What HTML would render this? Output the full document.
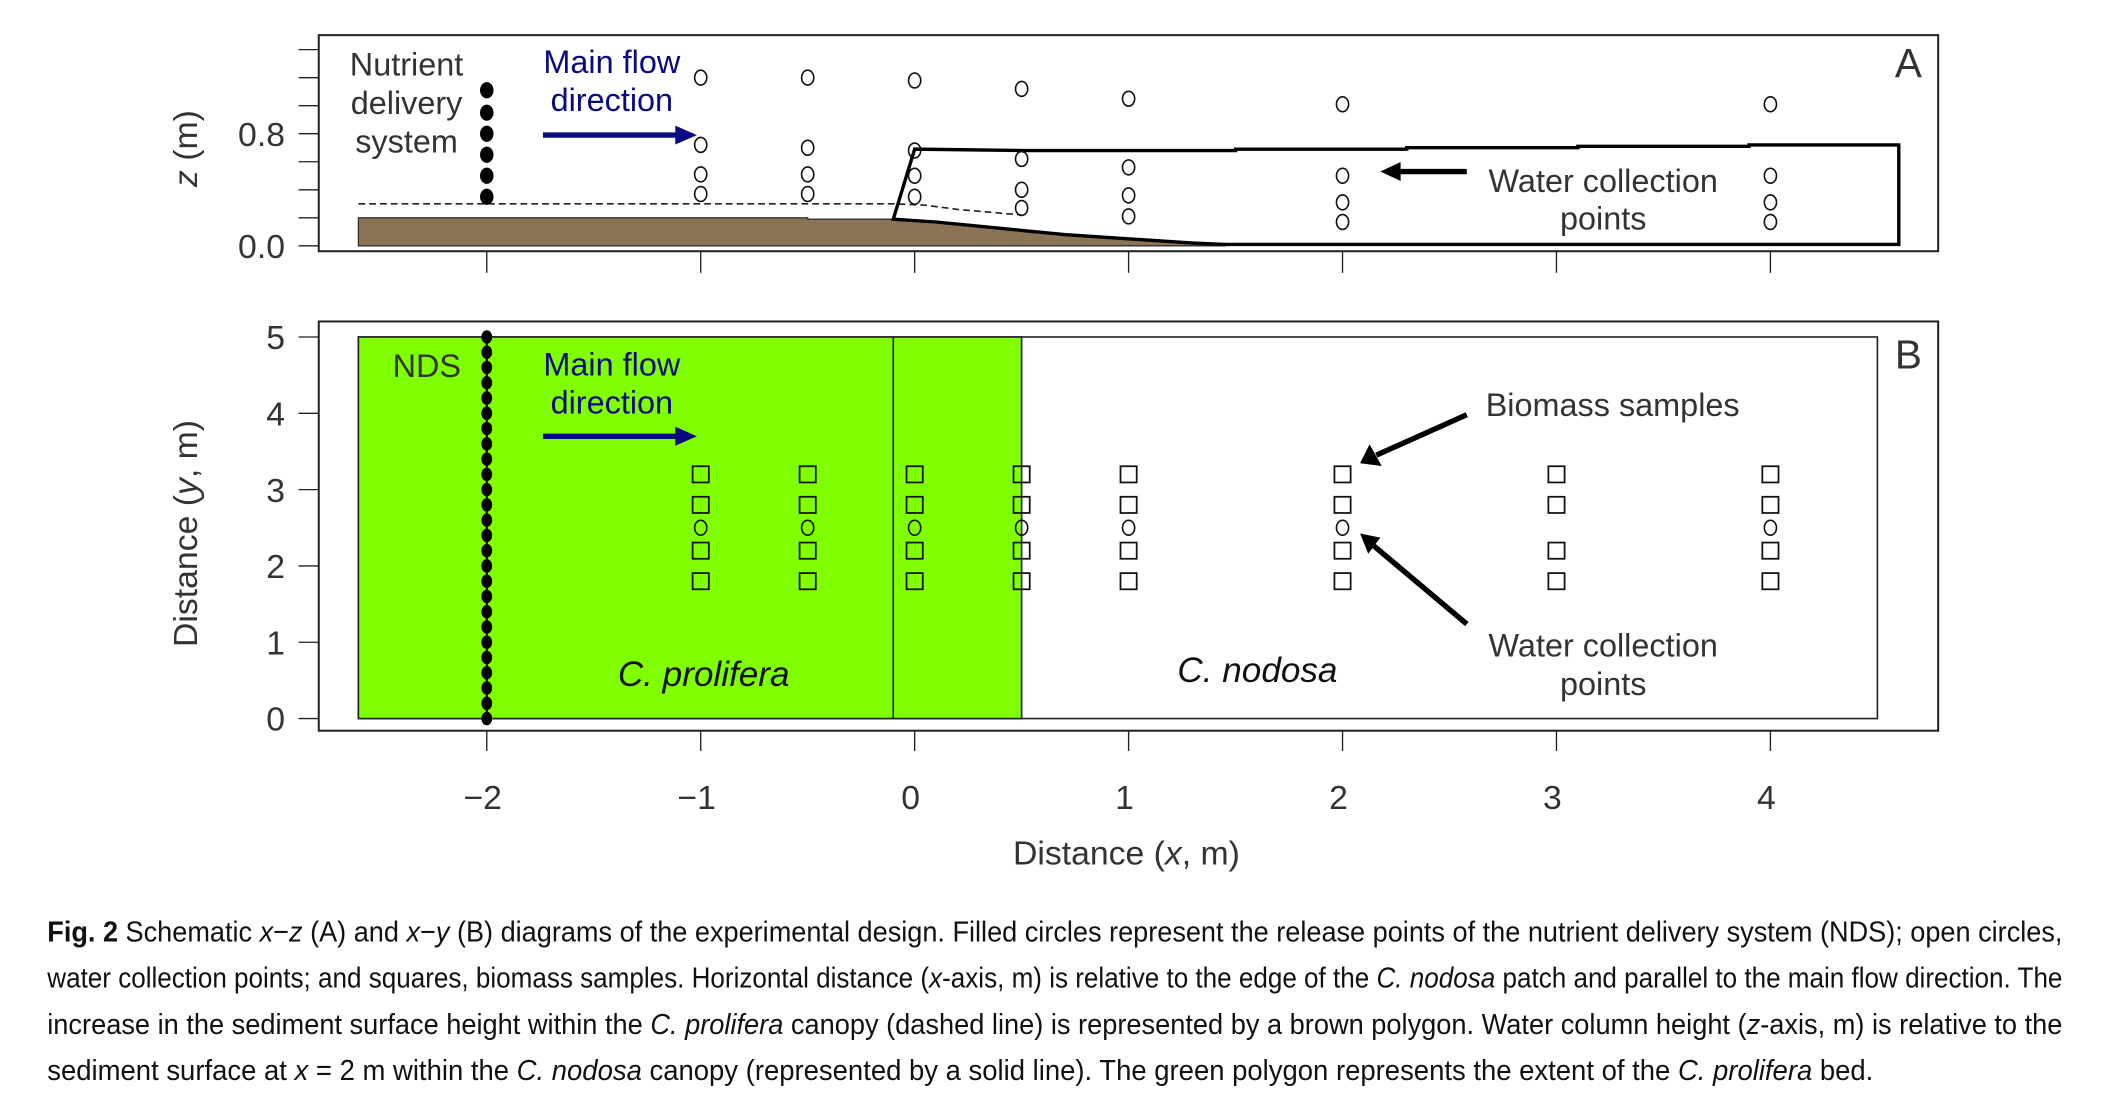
<!DOCTYPE html>
<html><head><meta charset="utf-8"><style>
html,body{margin:0;padding:0;background:#fff;}
svg{display:block;}
text{font-family:"Liberation Sans",sans-serif;}
</style></head><body>
<svg id="fig" width="2107" height="1117" viewBox="0 0 1560 827" preserveAspectRatio="none" xmlns="http://www.w3.org/2000/svg">
<g id="A"></g>
<g id="B"></g>
<g id="cap" font-size="21.5" fill="#111"></g>
</svg>
<script>
// ---- data ----
const xTicks = [-2,-1,0,1,2,3,4];
const xTickLabels = ["\u22122","\u22121","0","1","2","3","4"];
const zTicks = [0,0.2,0.4,0.6,0.8,1.0,1.2,1.4];
const zTickLabels = ["0.0","","","","0.8","","",""];
const yTicks = [0,1,2,3,4,5];
const yTickLabels = ["0","1","2","3","4","5"];
const ndsZ = [0.35,0.5,0.65,0.8,0.95,1.11];
const wcX = [-1,-0.5,0,0.5,1,2,4];
const wcZ1 = [1.20,1.20,1.18,1.12,1.05,1.01,1.01];
const wcZ2 = [0.72,0.70,0.68,0.62,0.56,0.50,0.50];
const wcZ3 = [0.51,0.51,0.50,0.40,0.36,0.31,0.31];
const wcZ4 = [0.37,0.37,0.35,0.27,0.21,0.17,0.17];
const sedX = [-2.6,-0.5,-0.5,-0.1,0.1,0.3,0.5,0.7,0.9,1.1,1.3,1.45];
const sedZ = [0.20,0.20,0.19,0.19,0.17,0.14,0.11,0.08,0.06,0.04,0.02,0.01];
const dashX = [-2.6,-0.1,0.05,0.2,0.35,0.5];
const dashZ = [0.30,0.30,0.29,0.26,0.24,0.22];
const canX = [0.5,1.5,1.5,2.3,2.3,3.1,3.1,3.9,3.9,4.6];
const canZ = [0.68,0.68,0.69,0.69,0.70,0.70,0.71,0.71,0.72,0.72];
const bioX = [-1,-0.5,0,0.5,1,2,3,4];
const bioY = [1.8,2.2,2.8,3.2];
const wcBX = [-1,-0.5,0,0.5,1,2,4];
const wcBY = [2.5];
const ndsBY = [0,0.2,0.4,0.6,0.8,1.0,1.2,1.4,1.6,1.8,2.0,2.2,2.4,2.6,2.8,3.0,3.2,3.4,3.6,3.8,4.0,4.2,4.4,4.6,4.8,5.0];
const bedX = [-2.6,0.5];
const bedY = [0,5];

// ---- scales ----
const X = v => 677.2 + v*158.4;
const ZA = v => 182 - v*103.75;
const YB = v => 532 - v*56.5;
const NS = "http://www.w3.org/2000/svg";
function mk(parent, tag, attrs, name, txt){
  const e=document.createElementNS(NS,tag);
  for(const k in attrs) e.setAttribute(k,attrs[k]);
  
  
  if(txt!==undefined) e.textContent=txt;
  parent.appendChild(e); return e;
}
const A=document.getElementById('A'), B=document.getElementById('B'), C=document.getElementById('cap');
const gray="#333";

// ---- Panel A ----
mk(A,'rect',{x:236,y:26,width:1199,height:160,fill:'none',stroke:'#222','stroke-width':1.5},'panel-a-frame');
zTicks.forEach((t,i)=>{
  mk(A,'line',{x1:221,x2:236,y1:ZA(t),y2:ZA(t),stroke:'#222','stroke-width':1},'z-tick');
  if(zTickLabels[i]) mk(A,'text',{x:211,y:ZA(t)+9,'text-anchor':'end','font-size':25,fill:gray},'z-tick-label',zTickLabels[i]);
});
xTicks.forEach(t=>mk(A,'line',{x1:X(t),x2:X(t),y1:186,y2:202,stroke:'#222','stroke-width':1},'x-tick-a'));
mk(A,'text',{x:0,y:0,transform:'translate(146,110) rotate(-90)','text-anchor':'middle','font-size':25,fill:gray},'z-axis-title',"z (m)").innerHTML='<tspan font-style="italic">z</tspan> (m)';
let sp=sedX.map((x,i)=>X(x)+','+ZA(sedZ[i])).join(' ');
sp+=' '+X(sedX[sedX.length-1])+','+ZA(0)+' '+X(-2.6)+','+ZA(0);
mk(A,'polygon',{points:sp,fill:'#8b7355',stroke:'#333','stroke-width':1},'sediment-polygon');
mk(A,'polyline',{points:dashX.map((x,i)=>X(x)+','+ZA(dashZ[i])).join(' '),fill:'none',stroke:'#222','stroke-width':1.2,'stroke-dasharray':'5,3'},'sediment-dashed-line');
let cp=[X(-0.1)+','+ZA(0.19), X(0)+','+ZA(0.69)];
canX.forEach((x,i)=>cp.push(X(x)+','+ZA(canZ[i])));
cp.push(X(4.6)+','+ZA(0.01)); cp.push(X(1.45)+','+ZA(0.01));
for(let i=sedX.length-1;i>=3;i--) cp.push(X(sedX[i])+','+ZA(sedZ[i]));
mk(A,'polygon',{points:cp.join(' '),fill:'none',stroke:'#000','stroke-width':2.5},'c-nodosa-canopy-outline');
[wcZ1,wcZ2,wcZ3,wcZ4].forEach(arr=>arr.forEach((z,i)=>mk(A,'ellipse',{cx:X(wcX[i]),cy:ZA(z),rx:4.5,ry:5.5,fill:'none',stroke:'#111','stroke-width':1.2},'water-collection-point')));
ndsZ.forEach(z=>mk(A,'ellipse',{cx:X(-2),cy:ZA(z),rx:5,ry:6,fill:'#000'},'nds-release-point'));
['Nutrient','delivery','system'].forEach((t,i)=>mk(A,'text',{x:301,y:56+i*28.5,'text-anchor':'middle','font-size':24,fill:gray},'nds-label',t));
['Main flow','direction'].forEach((t,i)=>mk(A,'text',{x:453,y:54+i*28,'text-anchor':'middle','font-size':24,fill:'#0a0a80'},'flow-label',t));
mk(A,'line',{x1:402,x2:502,y1:100,y2:100,stroke:'#0a0a80','stroke-width':4},'flow-arrow');
mk(A,'polygon',{points:'500,93 516,100 500,107',fill:'#0a0a80'},'flow-arrowhead');
mk(A,'text',{x:1413,y:57,'text-anchor':'middle','font-size':30,fill:gray},'panel-a-letter','A');
['Water collection','points'].forEach((t,i)=>mk(A,'text',{x:1187,y:142+i*28,'text-anchor':'middle','font-size':24,fill:gray},'water-collection-label',t));
mk(A,'line',{x1:1086,x2:1035,y1:127,y2:127,stroke:'#000','stroke-width':4},'water-arrow-a');
mk(A,'polygon',{points:'1037,120 1022,127 1037,134',fill:'#000'},'water-arrowhead-a');

// ---- Panel B ----
mk(B,'rect',{x:236,y:238,width:1199,height:303,fill:'none',stroke:'#222','stroke-width':1.5},'panel-b-frame');
mk(B,'rect',{x:X(-2.6),y:YB(5),width:X(4.5)-X(-2.6),height:YB(0)-YB(5),fill:'#fff',stroke:'#222','stroke-width':1.2},'c-nodosa-extent');
mk(B,'rect',{x:X(bedX[0]),y:YB(bedY[1]),width:X(bedX[1])-X(bedX[0]),height:YB(bedY[0])-YB(bedY[1]),fill:'#80ff00',stroke:'#222','stroke-width':1.2},'c-prolifera-bed');
mk(B,'line',{x1:X(-0.1),x2:X(-0.1),y1:YB(5),y2:YB(0),stroke:'#222','stroke-width':1.2},'bed-divider');
yTicks.forEach((t,i)=>{
  mk(B,'line',{x1:221,x2:236,y1:YB(t),y2:YB(t),stroke:'#222','stroke-width':1},'y-tick');
  mk(B,'text',{x:211,y:YB(t)+9,'text-anchor':'end','font-size':25,fill:gray},'y-tick-label',yTickLabels[i]);
});
xTicks.forEach((t,i)=>{
  mk(B,'line',{x1:X(t),x2:X(t),y1:541,y2:556,stroke:'#222','stroke-width':1},'x-tick');
  mk(B,'text',{x:X(t)-3,y:599,'text-anchor':'middle','font-size':25,fill:gray},'x-tick-label',xTickLabels[i]);
});
mk(B,'text',{x:834,y:640,'text-anchor':'middle','font-size':25,fill:gray},'x-axis-title').innerHTML='Distance (<tspan font-style="italic">x</tspan>, m)';
mk(B,'text',{x:0,y:0,transform:'translate(146,395) rotate(-90)','text-anchor':'middle','font-size':25,fill:gray},'y-axis-title').innerHTML='Distance (<tspan font-style="italic">y</tspan>, m)';
mk(B,'line',{x1:X(-2),x2:X(-2),y1:YB(5),y2:YB(0),stroke:'#000','stroke-width':1.5},'nds-line');
ndsBY.forEach(y=>mk(B,'ellipse',{cx:X(-2),cy:YB(y),rx:4,ry:5,fill:'#000'},'nds-release-point-b'));
bioX.forEach(x=>bioY.forEach(y=>mk(B,'rect',{x:X(x)-6,y:YB(y)-6,width:12,height:12,fill:'none',stroke:'#111','stroke-width':1.3},'biomass-sample')));
wcBX.forEach(x=>wcBY.forEach(y=>mk(B,'ellipse',{cx:X(x),cy:YB(y),rx:4.5,ry:5.5,fill:'none',stroke:'#111','stroke-width':1.2},'water-collection-point-b')));
mk(B,'text',{x:316,y:279,'text-anchor':'middle','font-size':24,fill:gray},'nds-label-b','NDS');
['Main flow','direction'].forEach((t,i)=>mk(B,'text',{x:453,y:278+i*28,'text-anchor':'middle','font-size':24,fill:'#0a0a80'},'flow-label-b',t));
mk(B,'line',{x1:402,x2:502,y1:323,y2:323,stroke:'#0a0a80','stroke-width':4},'flow-arrow-b');
mk(B,'polygon',{points:'500,316 516,323 500,330',fill:'#0a0a80'},'flow-arrowhead-b');
mk(B,'text',{x:521,y:508,'text-anchor':'middle','font-size':26,'font-style':'italic',fill:'#111'},'c-prolifera-label','C. prolifera');
mk(B,'text',{x:931,y:505,'text-anchor':'middle','font-size':26,'font-style':'italic',fill:'#111'},'c-nodosa-label','C. nodosa');
mk(B,'text',{x:1413,y:273,'text-anchor':'middle','font-size':30,fill:gray},'panel-b-letter','B');
mk(B,'text',{x:1194,y:308,'text-anchor':'middle','font-size':24,fill:gray},'biomass-label','Biomass samples');
['Water collection','points'].forEach((t,i)=>mk(B,'text',{x:1187,y:486+i*28.5,'text-anchor':'middle','font-size':24,fill:gray},'water-collection-label-b',t));
mk(B,'line',{x1:1086,y1:307,x2:1019,y2:337,stroke:'#000','stroke-width':4},'biomass-arrow');
mk(B,'polygon',{points:'1014,329 1007,343 1023,345',fill:'#000'},'biomass-arrowhead');
mk(B,'line',{x1:1086,y1:462,x2:1017,y2:404,stroke:'#000','stroke-width':4},'water-arrow-b');
mk(B,'polygon',{points:'1022,398 1007,395 1013,410',fill:'#000'},'water-arrowhead-b');

// ---- caption ----
const lines=[
 ['<tspan font-weight="bold">Fig. 2</tspan>  Schematic <tspan font-style="italic">x</tspan>\u2212<tspan font-style="italic">z</tspan> (A) and <tspan font-style="italic">x</tspan>\u2212<tspan font-style="italic">y</tspan> (B) diagrams of the experimental design. Filled circles represent the release points of the nutrient delivery system (NDS); open circles,',1492],
 ['water collection points; and squares, biomass samples. Horizontal distance (<tspan font-style="italic">x</tspan>-axis, m) is relative to the edge of the <tspan font-style="italic">C. nodosa</tspan> patch and parallel to the main flow direction. The',1492],
 ['increase in the sediment surface height within the <tspan font-style="italic">C. prolifera</tspan> canopy (dashed line) is represented by a brown polygon. Water column height (<tspan font-style="italic">z</tspan>-axis, m) is relative to the',1492],
 ['sediment surface at <tspan font-style="italic">x</tspan> = 2 m within the <tspan font-style="italic">C. nodosa</tspan> canopy (represented by a solid line). The green polygon represents the extent of the <tspan font-style="italic">C. prolifera</tspan> bed.',1352]
];
lines.forEach((l,i)=>{
  const t=mk(C,'text',{x:35,y:697+i*34.2,textLength:l[1],lengthAdjust:'spacingAndGlyphs'},'caption-line');
  t.innerHTML=l[0];
});
</script>
</body></html>
